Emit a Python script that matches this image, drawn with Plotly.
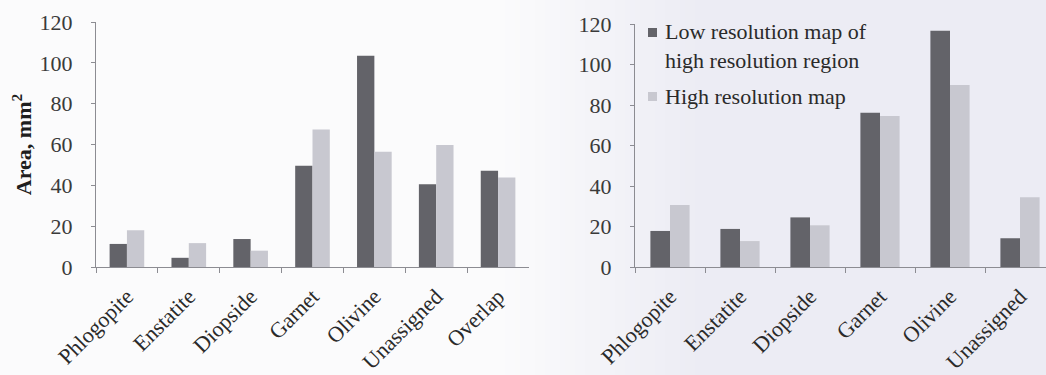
import plotly.graph_objects as go

# Mineral areas (mm^2) measured on each map
left_minerals = ["Phlogopite", "Enstatite", "Diopside", "Garnet", "Olivine", "Unassigned", "Overlap"]
left_low_res = [11.3, 4.5, 13.7, 49.6, 103.5, 40.5, 47.2]
left_high_res = [18.0, 11.7, 8.0, 67.4, 56.5, 59.8, 43.8]

right_minerals = ["Phlogopite", "Enstatite", "Diopside", "Garnet", "Olivine", "Unassigned"]
right_low_res = [17.8, 18.8, 24.5, 76.2, 116.7, 14.2]
right_high_res = [30.6, 12.8, 20.6, 74.6, 89.9, 34.4]

y_ticks = [0, 20, 40, 60, 80, 100, 120]

series_names = ["Low resolution map of<br>high resolution region", "High resolution map"]
DARK = "#636369"
LIGHT = "#c8c8d0"
AXIS = "#8c8c92"
SERIF = "Liberation Serif, Times New Roman, serif"

W, H = 1046, 375

fig = go.Figure()
fig.add_trace(go.Bar(x=left_minerals, y=left_low_res, marker_color=DARK, marker_line_width=0,
                     xaxis="x", yaxis="y", name=series_names[0], showlegend=False))
fig.add_trace(go.Bar(x=left_minerals, y=left_high_res, marker_color=LIGHT, marker_line_width=0,
                     xaxis="x", yaxis="y", name=series_names[1], showlegend=False))
fig.add_trace(go.Bar(x=right_minerals, y=right_low_res, marker_color=DARK, marker_line_width=0,
                     xaxis="x2", yaxis="y2", name=series_names[0], showlegend=False))
fig.add_trace(go.Bar(x=right_minerals, y=right_high_res, marker_color=LIGHT, marker_line_width=0,
                     xaxis="x2", yaxis="y2", name=series_names[1], showlegend=False))


def px_x(v):
    return v / W


def px_y(v):
    return 1 - v / H


common_x = dict(
    type="category", showgrid=False, zeroline=False, showline=True, linecolor=AXIS, linewidth=1,
    ticks="outside", tickson="boundaries", ticklen=5, tickcolor=AXIS, tickangle=-45,
    tickfont=dict(family=SERIF, size=22, color="#2a2a2a"),
    ticklabelstandoff=7,
    automargin=False,
)
common_y = dict(
    range=[0, 120], tickvals=y_ticks, showgrid=False, zeroline=False, showline=True,
    linecolor=AXIS, linewidth=1, ticks="outside", ticklen=4, tickcolor=AXIS,
    tickfont=dict(family=SERIF, size=22, color="#3a3a3a"), ticklabelstandoff=14,
    automargin=False,
)

# Background: white page fading into a lavender tint on the right
shapes = [dict(type="rect", xref="paper", yref="paper", x0=0, x1=1, y0=0, y1=1,
               fillcolor="#fbfbfc", line_width=0, layer="below")]
c0 = (251, 251, 252)
c1 = (236, 236, 244)
n_steps = 40
x_start, x_end = 500, 700
for i in range(n_steps):
    t = (i + 0.5) / n_steps
    col = tuple(round(a + (b - a) * t) for a, b in zip(c0, c1))
    xa = x_start + (x_end - x_start) * i / n_steps
    xb = x_start + (x_end - x_start) * (i + 1) / n_steps + 0.5
    shapes.append(dict(type="rect", xref="paper", yref="paper", x0=px_x(xa), x1=px_x(xb),
                       y0=0, y1=1, fillcolor="rgb(%d,%d,%d)" % col, line_width=0, layer="below"))
shapes.append(dict(type="rect", xref="paper", yref="paper", x0=px_x(x_end), x1=1, y0=0, y1=1,
                   fillcolor="rgb(%d,%d,%d)" % c1, line_width=0, layer="below"))

# Legend keys for the right-hand chart
shapes.append(dict(type="rect", xref="paper", yref="paper", x0=px_x(648), x1=px_x(657),
                   y0=px_y(37), y1=px_y(28), fillcolor=DARK, line_width=0))
shapes.append(dict(type="rect", xref="paper", yref="paper", x0=px_x(648), x1=px_x(657),
                   y0=px_y(101), y1=px_y(92), fillcolor=LIGHT, line_width=0))

annotations = [
    dict(xref="paper", yref="paper", x=px_x(663), y=px_y(46), xanchor="left", yanchor="middle",
         text=series_names[0], showarrow=False, align="left",
         font=dict(family=SERIF, size=22, color="#2a2a2a")),
    dict(xref="paper", yref="paper", x=px_x(663), y=px_y(97), xanchor="left", yanchor="middle",
         text=series_names[1], showarrow=False, align="left",
         font=dict(family=SERIF, size=22, color="#2a2a2a")),
]

fig.update_layout(
    width=W, height=H, margin=dict(l=0, r=0, t=0, b=0, autoexpand=False),
    paper_bgcolor="rgba(0,0,0,0)", plot_bgcolor="rgba(0,0,0,0)",
    barmode="group", bargap=0.44, bargroupgap=0,
    showlegend=False,
    xaxis=dict(common_x, domain=[px_x(96), px_x(529)], range=[-0.5, 6.5]),
    yaxis=dict(common_y, domain=[px_y(267), px_y(22)], anchor="x",
               title=dict(text="Area, mm<sup>2</sup>", standoff=1,
                          font=dict(family=SERIF, size=22, color="#1e1e1e", weight="bold"))),
    xaxis2=dict(common_x, domain=[px_x(635), 1.0], range=[-0.5, -0.5 + (W - 635) / 70.0], anchor="y2"),
    yaxis2=dict(common_y, domain=[px_y(267), px_y(24)], anchor="x2"),
    shapes=shapes,
    annotations=annotations,
)

fig.write_html("out.html")
